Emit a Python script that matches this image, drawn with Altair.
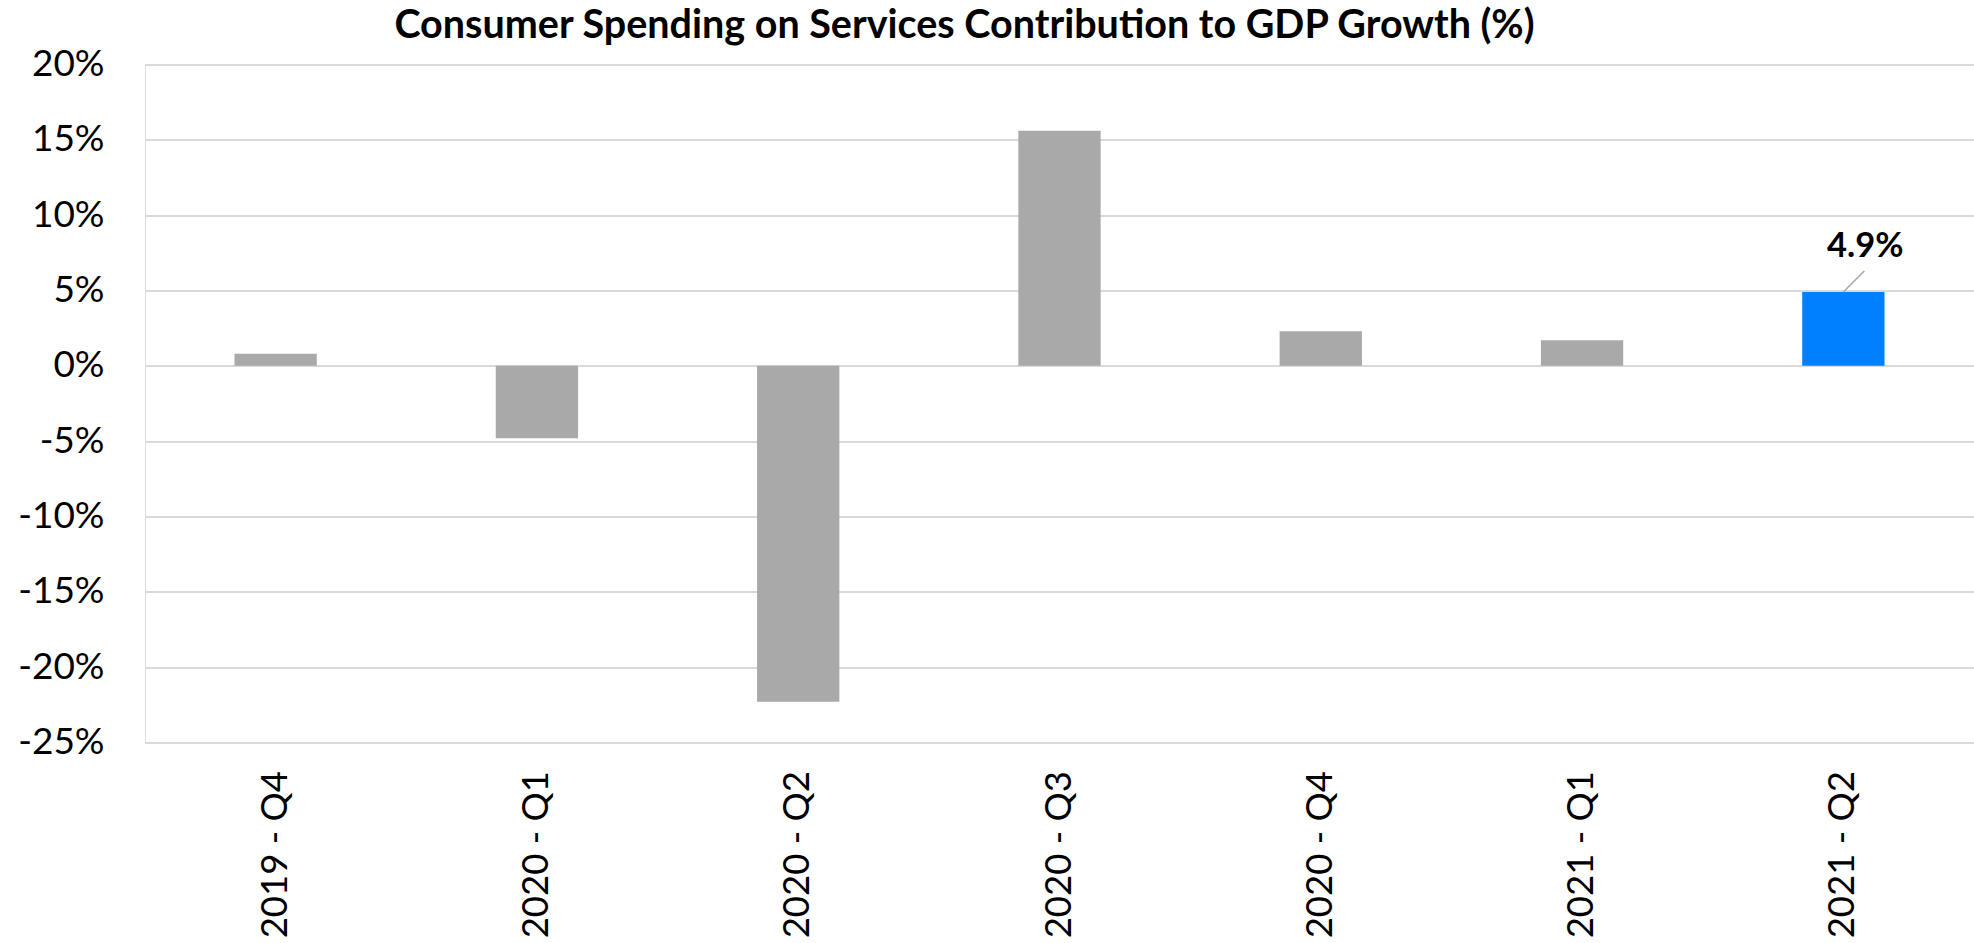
import altair as alt
import pandas as pd

quarters = ["2019 - Q4", "2020 - Q1", "2020 - Q2", "2020 - Q3", "2020 - Q4", "2021 - Q1", "2021 - Q2"]
values = [0.8, -4.8, -22.3, 15.6, 2.3, 1.7, 4.9]
highlight_quarter = "2021 - Q2"
y_ticks = [-25, -20, -15, -10, -5, 0, 5, 10, 15, 20]
title_text = "Consumer Spending on Services Contribution to GDP Growth (%)"

df = pd.DataFrame({"quarter": quarters, "value": values})
df["label"] = df["value"].map(lambda v: f"{v:.1f}%")

FONT = "Lato"
GRAY = "#A9A9A9"
BLUE = "#0080FF"

x_enc = alt.X(
    "quarter:N",
    sort=quarters,
    title=None,
    scale=alt.Scale(paddingInner=0.685, paddingOuter=0.3425),
    axis=alt.Axis(
        labelAngle=-90,
        labelFont=FONT,
        labelFontSize=36.5,
        labelColor="#000000",
        labelPadding=28,
        ticks=False,
        tickSize=0,
        domain=False,
        grid=False,
    ),
)

y_enc = alt.Y(
    "value:Q",
    title=None,
    scale=alt.Scale(domain=[-25, 20], nice=False, zero=False),
    axis=alt.Axis(
        values=y_ticks,
        labelExpr="datum.value + '%'",
        labelFont=FONT,
        labelFontSize=37,
        labelColor="#000000",
        labelPadding=41,
        ticks=False,
        tickSize=0,
        domain=False,
        grid=True,
        gridColor="#D9D9D9",
        gridWidth=2,
    ),
)

bars = alt.Chart(df).mark_bar().encode(
    x=x_enc,
    y=y_enc,
    y2=alt.datum(0),
    color=alt.condition(
        alt.datum.quarter == highlight_quarter, alt.value(BLUE), alt.value(GRAY)
    ),
)

hl = alt.Chart(df).transform_filter(alt.datum.quarter == highlight_quarter)

leader = hl.mark_rule(color="#A6A6A6", strokeWidth=1.5, x2Offset=21, y2Offset=-21).encode(
    x=alt.X("quarter:N", sort=quarters),
    x2="quarter:N",
    y="value:Q",
    y2="value:Q",
)

label = hl.mark_text(
    dx=22, dy=-35, baseline="alphabetic", align="center",
    font=FONT, fontSize=34.5, fontWeight="bold", color="#000000",
).encode(
    x=alt.X("quarter:N", sort=quarters),
    y="value:Q",
    text="label:N",
)

chart = (
    alt.layer(bars, leader, label)
    .properties(
        width=1829,
        height=678,
        autosize=alt.AutoSizeParams(type="none"),
        padding={"left": 145, "top": 64.5, "right": 0, "bottom": 198},
        title=alt.TitleParams(
            text=title_text,
            font=FONT,
            fontSize=39.5,
            fontWeight="bold",
            color="#000000",
            anchor="middle",
            baseline="alphabetic",
            dx=-95,
            dy=40,
            offset=8,
        ),
    )
    .configure_view(stroke=None)
    .configure(background="#FFFFFF")
)

chart.save("out.html", embed_options={"renderer": "svg", "actions": False})
